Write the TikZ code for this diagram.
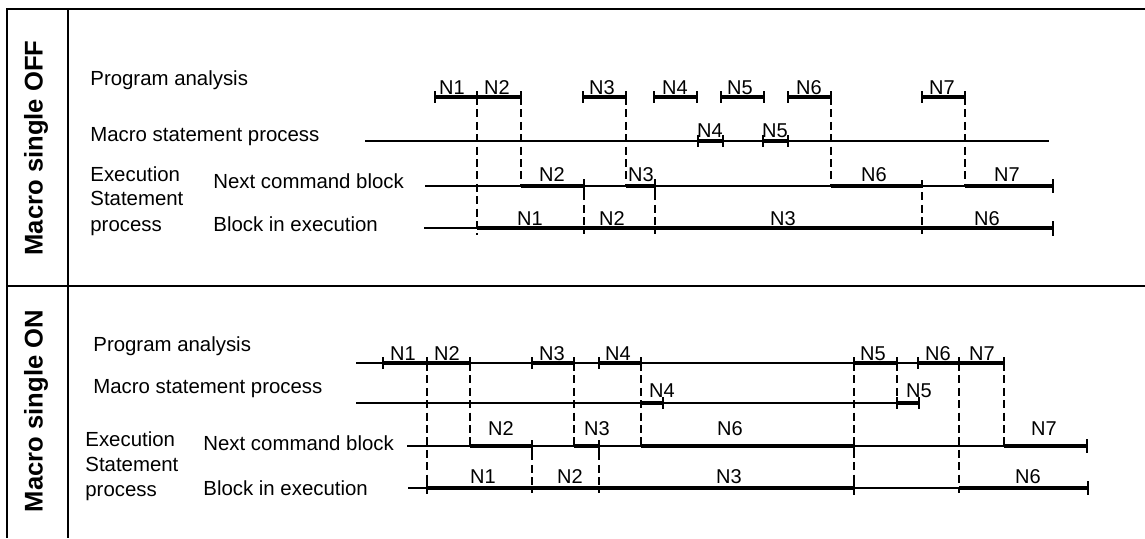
\documentclass[tikz,border=0pt]{standalone}
\usepackage{fontspec}
\setmainfont{Liberation Sans}
\usepackage{tikz}

\begin{document}
\begin{tikzpicture}[
x=0.5pt,
y=-0.5pt,
rowlbl/.style={anchor=base west,inner sep=0pt,font=\fontsize{10.2}{12}\selectfont},
seglbl/.style={anchor=base,inner sep=0pt,font=\fontsize{10}{12}\selectfont},
paneltitle/.style={rotate=90,inner sep=0pt,font=\fontsize{12.8}{15}\selectfont\bfseries},
frameline/.style={line width=1.1pt},
idle/.style={line width=0.6pt},
busy/.style={line width=1.8pt},
tk/.style={line width=0.6pt},
sync/.style={line width=0.7pt,dash pattern=on 4pt off 2.2pt}
]
\useasboundingbox (0,0) rectangle (1145,538);

\draw[frameline] (1145,9) -- (7,9) -- (7,538);
\draw[frameline] (68,9) -- (68,538);
\draw[frameline] (7,286) -- (1145,286);

\node[paneltitle] (offtitle) at (36,148) {Macro single OFF};
\node[paneltitle] (ontitle) at (36,411) {Macro single ON};

\node[rowlbl] (offpa) at (90,85) {Program analysis};
\node[rowlbl] (offms) at (90,141.7) {Macro statement process};
\node[rowlbl] (offex1) at (90,181) {Execution};
\node[rowlbl] (offex2) at (90,205.7) {Statement};
\node[rowlbl] (offex3) at (90,231) {process};
\node[rowlbl] (offnc) at (213,188.3) {Next command block};
\node[rowlbl] (offbe) at (213,231) {Block in execution};

\draw[sync] (477,97) -- (477,235);
\draw[sync] (521,97) -- (521,186);
\draw[sync] (626,97) -- (626,186);
\draw[sync] (831,97) -- (831,186);
\draw[sync] (965,97) -- (965,186);
\draw[sync] (584,180) -- (584,234);
\draw[sync] (655,180) -- (655,234);
\draw[sync] (922,180) -- (922,234);

\draw[busy] (435,97) -- (521,97) (583,97) -- (626,97) (654,97) -- (697,97)
  (721,97) -- (764,97) (788,97) -- (831,97) (922,97) -- (965,97);
\draw[tk] (435,91) -- (435,103) (477,91) -- (477,103) (521,91) -- (521,103)
  (583,91) -- (583,103) (626,91) -- (626,103) (654,91) -- (654,103)
  (697,91) -- (697,103) (721,91) -- (721,103) (764,91) -- (764,103)
  (788,91) -- (788,103) (831,91) -- (831,103) (922,91) -- (922,103)
  (965,91) -- (965,103);
\node[seglbl] (offpaN1) at (452,94) {N1};
\node[seglbl] (offpaN2) at (497,94) {N2};
\node[seglbl] (offpaN3) at (602,94) {N3};
\node[seglbl] (offpaN4) at (675,94) {N4};
\node[seglbl] (offpaN5) at (740,94) {N5};
\node[seglbl] (offpaN6) at (809,94) {N6};
\node[seglbl] (offpaN7) at (942,94) {N7};

\draw[idle] (365,141) -- (1049,141);
\draw[busy] (698,141) -- (723,141) (763,141) -- (788,141);
\draw[tk] (698,135) -- (698,147) (723,135) -- (723,147)
  (763,135) -- (763,147) (788,135) -- (788,147);
\node[seglbl] (offmsN4) at (710,137.5) {N4};
\node[seglbl] (offmsN5) at (775,137.5) {N5};

\draw[idle] (425,186) -- (1053,186);
\draw[busy] (521,186) -- (584,186) (626,186) -- (655,186)
  (831,186) -- (922,186) (965,186) -- (1053,186);
\draw[tk] (584,179) -- (584,192) (655,179) -- (655,192) (1053,179) -- (1053,193);
\node[seglbl] (offncN2) at (552,181) {N2};
\node[seglbl] (offncN3) at (641,181) {N3};
\node[seglbl] (offncN6) at (874,181) {N6};
\node[seglbl] (offncN7) at (1007,181) {N7};

\draw[idle] (424,228) -- (477,228);
\draw[busy] (477,228) -- (1053,228);
\draw[tk] (1053,221) -- (1053,236);
\node[seglbl] (offbeN1) at (530,225) {N1};
\node[seglbl] (offbeN2) at (612,225) {N2};
\node[seglbl] (offbeN3) at (783,225) {N3};
\node[seglbl] (offbeN6) at (987,225) {N6};

\node[rowlbl] (onpa) at (93,351.7) {Program analysis};
\node[rowlbl] (onms) at (93,393.3) {Macro statement process};
\node[rowlbl] (onex1) at (85,446.7) {Execution};
\node[rowlbl] (onex2) at (85,471.5) {Statement};
\node[rowlbl] (onex3) at (85,496.5) {process};
\node[rowlbl] (onnc) at (203,450) {Next command block};
\node[rowlbl] (onbe) at (203,495) {Block in execution};

\draw[sync] (427,363) -- (427,493);
\draw[sync] (470,363) -- (470,446);
\draw[sync] (574,363) -- (574,446);
\draw[sync] (641,363) -- (641,446);
\draw[sync] (532,440) -- (532,493);
\draw[sync] (599,440) -- (599,493);
\draw[sync] (854,363) -- (854,493);
\draw[sync] (897,363) -- (897,409);
\draw[sync] (959,363) -- (959,493);
\draw[sync] (1004,363) -- (1004,446);

\draw[idle] (356,363) -- (1004,363);
\draw[busy] (383,363) -- (470,363) (532,363) -- (574,363) (599,363) -- (641,363)
  (854,363) -- (897,363) (918,363) -- (1004,363);
\draw[tk] (383,357) -- (383,369) (427,357) -- (427,369) (470,357) -- (470,369)
  (532,357) -- (532,369) (574,357) -- (574,369) (599,357) -- (599,369)
  (641,357) -- (641,369) (854,357) -- (854,369) (897,357) -- (897,369)
  (918,357) -- (918,369) (959,357) -- (959,369) (1004,357) -- (1004,369);
\node[seglbl] (onpaN1) at (403,360) {N1};
\node[seglbl] (onpaN2) at (447,360) {N2};
\node[seglbl] (onpaN3) at (552,360) {N3};
\node[seglbl] (onpaN4) at (618,360) {N4};
\node[seglbl] (onpaN5) at (873,360) {N5};
\node[seglbl] (onpaN6) at (938,360) {N6};
\node[seglbl] (onpaN7) at (982,360) {N7};

\draw[idle] (356,403) -- (919,403);
\draw[busy] (641,403) -- (663,403) (897,403) -- (919,403);
\draw[tk] (663,397) -- (663,409) (897,397) -- (897,409) (919,397) -- (919,409);
\node[seglbl] (onmsN4) at (662,397) {N4};
\node[seglbl] (onmsN5) at (919,397) {N5};

\draw[idle] (407,446) -- (1087,446);
\draw[busy] (470,446) -- (532,446) (574,446) -- (599,446)
  (641,446) -- (854,446) (1004,446) -- (1087,446);
\draw[tk] (532,440) -- (532,452) (599,440) -- (599,452) (854,440) -- (854,452)
  (1087,439) -- (1087,453);
\node[seglbl] (onncN2) at (501,435) {N2};
\node[seglbl] (onncN3) at (597,435) {N3};
\node[seglbl] (onncN6) at (730,435) {N6};
\node[seglbl] (onncN7) at (1044,435) {N7};

\draw[idle] (408,488) -- (1088,488);
\draw[busy] (427,488) -- (854,488) (959,488) -- (1088,488);
\draw[tk] (427,482) -- (427,494) (854,481) -- (854,495) (1088,481) -- (1088,495);
\node[seglbl] (onbeN1) at (483,483) {N1};
\node[seglbl] (onbeN2) at (570,483) {N2};
\node[seglbl] (onbeN3) at (729,483) {N3};
\node[seglbl] (onbeN6) at (1028,483) {N6};
\end{tikzpicture}
\end{document}
